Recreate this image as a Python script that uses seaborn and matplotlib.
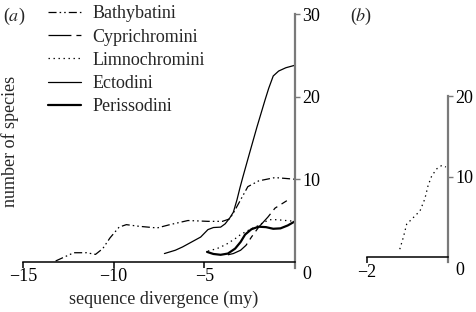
import matplotlib
matplotlib.use('Agg')
import matplotlib.pyplot as plt
import matplotlib.transforms as mtransforms
import seaborn as sns

bathy_x = [-13.2, -12.8, -12.2, -11.5, -11.0, -10.6, -10.2, -9.7, -9.3, -8.6, -7.6, -6.9, -5.9, -4.8, -4.0, -3.6, -3.4, -3.0, -2.6, -2.0, -1.1, 0.0]
bathy_y = [0.1, 0.5, 1.1, 1.1, 0.9, 1.6, 2.9, 4.2, 4.5, 4.3, 4.1, 4.5, 5.0, 4.9, 4.9, 5.2, 5.9, 7.5, 9.1, 9.8, 10.2, 10.0]

cypri_x = [-3.7, -3.4, -3.0, -2.7, -2.4, -2.0, -1.5, -1.1, -0.45]
cypri_y = [0.85, 1.0, 1.4, 2.0, 3.0, 4.2, 5.4, 6.5, 7.4]

limno_x = [-4.8, -4.3, -3.8, -3.3, -3.0, -2.5, -2.1, -1.7, -1.4, -1.0, -0.5, 0.0]
limno_y = [1.3, 1.6, 2.1, 2.8, 3.3, 3.9, 4.3, 4.8, 5.1, 5.1, 5.0, 4.9]

ecto_x = [-7.2, -6.6, -6.2, -5.7, -5.2, -4.8, -4.5, -4.1, -3.85, -3.6, -3.4, -3.2, -3.03, -2.87, -2.5, -2.1, -1.65, -1.45, -1.2, -0.9, -0.5, 0.0]
ecto_y = [1.0, 1.4, 1.8, 2.4, 3.0, 3.9, 4.15, 4.2, 4.6, 5.3, 6.0, 7.5, 9.0, 10.3, 13.2, 16.3, 19.6, 21.0, 22.5, 23.1, 23.5, 23.8]

periss_x = [-4.85, -4.5, -4.1, -3.7, -3.3, -3.0, -2.75, -2.4, -2.0, -1.6, -1.2, -0.8, -0.4, 0.0]
periss_y = [1.2, 0.95, 0.85, 1.0, 1.6, 2.4, 3.3, 3.95, 4.25, 4.2, 4.0, 4.05, 4.4, 4.9]

b_x = [-1.19, -1.1, -1.02, -0.86, -0.69, -0.57, -0.49, -0.4, -0.27, -0.15, -0.05]
b_y = [1.0, 2.5, 4.1, 4.9, 5.75, 7.25, 8.9, 10.1, 11.0, 11.4, 11.2]

FS = 13

sns.set_style('ticks')
plt.rcParams['font.family'] = ['Liberation Serif', 'DejaVu Serif']
plt.rcParams['mathtext.fontset'] = 'stix'
plt.rcParams['lines.scale_dashes'] = False
plt.rcParams['font.size'] = FS

fig = plt.figure(figsize=(4.76, 3.12), dpi=100)
ax_a = fig.add_axes([0.0483, 0.141, 0.5714, 0.814])
ax_b = fig.add_axes([0.771, 0.160, 0.170, 0.532])

series = [
    ('Bathybatini', bathy_x, bathy_y, (0, (5.8, 2.2, 1.1, 2.2, 1.1, 2.2)), 0.9),
    ('Cyprichromini', cypri_x, cypri_y, (0, (16.5, 3.6, 3.6, 3.6)), 0.9),
    ('Limnochromini', limno_x, limno_y, (0, (1.0, 2.6)), 0.9),
    ('Ectodini', ecto_x, ecto_y, '-', 0.9),
    ('Perissodini', periss_x, periss_y, '-', 1.6),
]
for name, xs, ys, ls, lw in series:
    sns.lineplot(x=xs, y=ys, ax=ax_a, color='black', linestyle=ls, linewidth=lw,
                 estimator=None, sort=False, label=name)

sns.lineplot(x=b_x, y=b_y, ax=ax_b, color='black', linestyle=(0, (1.0, 2.6)),
             linewidth=0.9, estimator=None, sort=False)

spine_grey = '#7a7a7a'

def style_axes(ax, xlim, ylim, xticks, yticks, ybottom):
    ax.set_xlim(*xlim)
    ax.set_ylim(ybottom, ylim)
    ax.spines['left'].set_visible(False)
    ax.spines['top'].set_visible(False)
    ax.spines['bottom'].set_position(('data', 0))
    ax.spines['bottom'].set_linewidth(1.1)
    ax.spines['bottom'].set_color('black')
    ax.spines['right'].set_linewidth(1.6)
    ax.spines['right'].set_color(spine_grey)
    ax.yaxis.tick_right()
    ax.set_xticks(xticks)
    ax.set_xticklabels([f'\u2212{abs(t)}' for t in xticks])
    ax.set_yticks(yticks)
    ax.set_yticklabels([str(t) for t in yticks])
    ax.tick_params(axis='x', direction='out', length=4.3, width=1.1, pad=0.5, colors='black')
    ax.tick_params(axis='y', direction='out', length=3.6, width=1.0, pad=1.5,
                   color=spine_grey, labelcolor='black')
    ax.set_xlabel('')
    ax.set_ylabel('')
    # метка «0» сдвинута вниз, деление при нуле не рисуется
    t0 = ax.yaxis.get_major_ticks()[0]
    t0.tick2line.set_visible(False)
    off = mtransforms.ScaledTranslation(0, -0.11, fig.dpi_scale_trans)
    t0.label2.set_transform(t0.label2.get_transform() + off)

style_axes(ax_a, (-15, 0), 30, [-15, -10, -5], [0, 10, 20, 30], -0.75)
style_axes(ax_b, (-2, 0), 20, [-2], [0, 10, 20], -0.6)

ax_a.set_ylabel('number of species')
ax_a.yaxis.set_label_position('left')
ax_a.yaxis.set_label_coords(-0.015, 0.5)
ax_a.set_xlabel('sequence divergence (my)')
ax_a.xaxis.set_label_coords(0.518, -0.088)

handles, labels = ax_a.get_legend_handles_labels()
ax_a.legend(handles, labels, loc='upper left', frameon=False,
            bbox_to_anchor=(48 / 476, 1 - 5.5 / 312), bbox_transform=fig.transFigure,
            borderpad=0, borderaxespad=0, handlelength=1.85, handletextpad=0.6,
            labelspacing=0.34, fontsize=FS)

fig.text(3 / 476, 1 - 16 / 312, '($a$)', fontsize=FS, va='center', ha='left')
fig.text(350 / 476, 1 - 16 / 312, '($b$)', fontsize=FS, va='center', ha='left')

fig.savefig('out.png', dpi=100)
